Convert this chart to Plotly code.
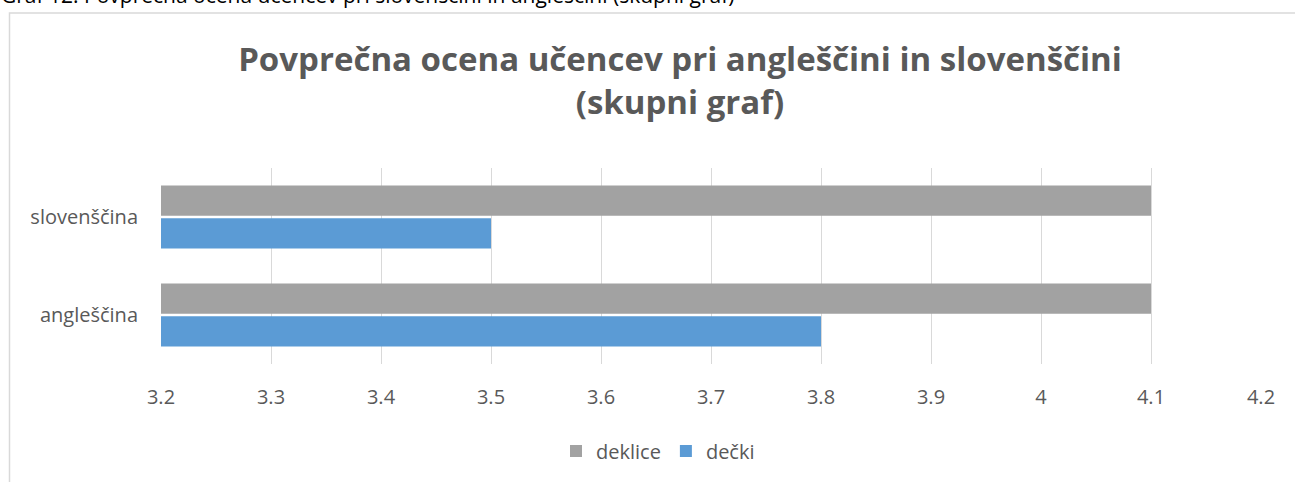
import plotly.graph_objects as go

categories = ["angleščina", "slovenščina"]
decki = [3.8, 3.5]
deklice = [4.1, 4.1]
tick_vals = [3.2, 3.3, 3.4, 3.5, 3.6, 3.7, 3.8, 3.9, 4.0, 4.1, 4.2]
tick_text = ["3.2", "3.3", "3.4", "3.5", "3.6", "3.7", "3.8", "3.9", "4", "4.1", "4.2"]

title = "Povprečna ocena učencev pri angleščini in slovenščini<br>(skupni graf)"
caption = "Graf 12: Povprečna ocena učencev pri slovenščini in angleščini (skupni graf)"

W, H = 1295, 482
L, R, T, B = 161, 34, 168, 116
pw, ph = W - L - R, H - T - B

def px(x):
    return (x - L) / pw

def py(y):
    return (H - B - y) / ph

fig = go.Figure()
fig.add_trace(go.Bar(y=categories, x=decki, orientation="h", name="dečki",
                     marker=dict(color="#5B9BD5", line=dict(width=0))))
fig.add_trace(go.Bar(y=categories, x=deklice, orientation="h", name="deklice",
                     marker=dict(color="#A2A2A2", line=dict(width=0))))

fig.update_layout(
    width=W, height=H,
    margin=dict(l=L, r=R, t=T, b=B),
    paper_bgcolor="white", plot_bgcolor="white",
    barmode="group", bargap=0.33, bargroupgap=0.075,
    font=dict(family="Open Sans", color="#595959", size=20),
    title=dict(text=title, x=680 / W, xref="container", xanchor="center",
               y=1 - 71 / H, yanchor="middle",
               font=dict(size=33, color="#595959", family="Open Sans")),
    legend=dict(orientation="h", x=px(658), xanchor="center", y=py(454), yanchor="middle",
                traceorder="reversed", font=dict(size=20, color="#595959"),
                itemwidth=30, itemsizing="constant"),
    showlegend=True,
)
fig.update_layout(title_font_weight="bold")
fig.update_xaxes(range=[3.2, 4.2], tickvals=tick_vals, ticktext=tick_text,
                 showgrid=True, gridcolor="#D9D9D9", gridwidth=1, zeroline=False,
                 showline=False, ticks="", ticklabelstandoff=19,
                 tickfont=dict(size=20, color="#595959"))
fig.update_yaxes(showgrid=False, showline=False, ticks="", ticklabelstandoff=22,
                 tickfont=dict(size=20, color="#595959"))

fig.add_shape(type="rect", xref="paper", yref="paper",
              x0=px(9.5), x1=px(1400), y0=py(11.5), y1=py(600),
              line=dict(color="#D9D9D9", width=1.5), layer="below")
fig.add_annotation(text=caption, xref="paper", yref="paper", x=px(-1), xanchor="left",
                   y=py(-23), yanchor="top", showarrow=False,
                   font=dict(size=21, color="#000000", family="Open Sans"))

fig.write_html("out.html", config={"displayModeBar": False},
               post_script="document.body.style.margin='0';")
